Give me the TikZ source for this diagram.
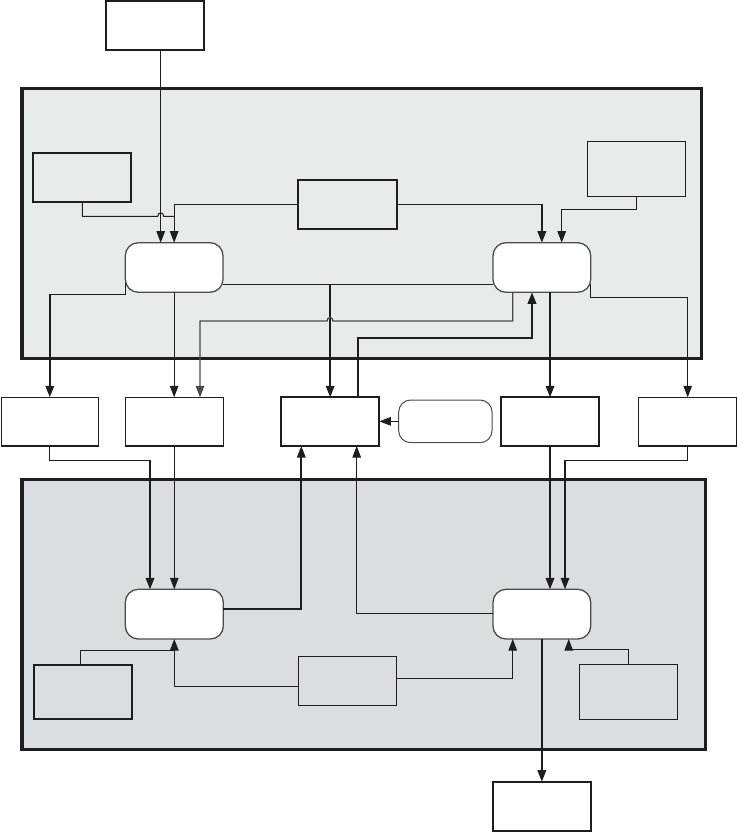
\documentclass[tikz,border=0pt]{standalone}
\usetikzlibrary{arrows.meta}
\definecolor{topfill}{HTML}{E9EAEA}
\definecolor{botfill}{HTML}{DCDDDF}
\definecolor{lineblk}{HTML}{1E1E1E}
\definecolor{graylink}{HTML}{4A4A4A}
\tikzset{
  cont/.style={draw=lineblk, line width=3.3pt, inner sep=0pt, outer sep=0pt},
  sbox/.style={draw=lineblk, line width=1.2pt, inner sep=0pt, outer sep=0pt},
  tbox/.style={draw=lineblk, line width=1.7pt, inner sep=0pt, outer sep=0pt},
  rbox/.style={draw=black!70, fill=white, line width=1.3pt, rounded corners=13pt, inner sep=0pt, outer sep=0pt},
  con/.style={draw=lineblk, line width=1pt},
  thk/.style={draw=lineblk, line width=1.9pt},
  arr/.style={-{Triangle[length=11.5pt,width=8.5pt]}}
}
\begin{document}
\begin{tikzpicture}[x=1pt,y=-1pt]
\useasboundingbox (0,0) rectangle (738,832);
% containers
\node[cont, fill=topfill, minimum width=679.7pt, minimum height=270pt, anchor=north west] (topC) at (22,88.3) {};
\node[cont, fill=botfill, minimum width=683.3pt, minimum height=270pt, anchor=north west] (botC) at (22,479.3) {};
% top area
\node[tbox, fill=white, minimum width=98pt, minimum height=49pt] (src) at (155,25.7) {};
\node[tbox, minimum width=98pt, minimum height=48.7pt] (tlb) at (82.3,177.35) {};
\node[tbox, minimum width=98.4pt, minimum height=48.7pt] (tmb) at (347.5,204.35) {};
\node[sbox, minimum width=98pt, minimum height=55pt] (trb) at (636.3,168.8) {};
\node[rbox, minimum width=97.7pt, minimum height=49.6pt] (tl) at (174.15,267.5) {};
\node[rbox, minimum width=97.7pt, minimum height=49.6pt] (tr) at (541.85,267.5) {};
% middle row
\node[sbox, fill=white, minimum width=97pt, minimum height=48.7pt] (m1) at (49.8,421.65) {};
\node[sbox, fill=white, minimum width=98pt, minimum height=48.7pt] (m2) at (174.3,421.65) {};
\node[tbox, fill=white, minimum width=98.3pt, minimum height=48.7pt] (m3) at (330.15,421.65) {};
\node[rbox, line width=1pt, rounded corners=12pt, minimum width=93.3pt, minimum height=42.7pt] (mr) at (445.35,421.35) {};
\node[tbox, fill=white, minimum width=98.6pt, minimum height=48.7pt] (m4) at (550,421.65) {};
\node[sbox, fill=white, minimum width=98pt, minimum height=48.7pt] (m5) at (687.7,421.65) {};
% bottom area
\node[rbox, minimum width=98pt, minimum height=49.7pt] (bl) at (174.3,614.15) {};
\node[rbox, minimum width=97.7pt, minimum height=49.7pt] (br) at (541.85,614.15) {};
\node[tbox, minimum width=98pt, minimum height=54.6pt] (blb) at (83.3,692) {};
\node[sbox, minimum width=98.4pt, minimum height=49pt] (bmb) at (347.5,680.8) {};
\node[sbox, minimum width=98pt, minimum height=55pt] (brb) at (628.3,691.8) {};
\node[tbox, fill=white, minimum width=98.3pt, minimum height=49.3pt] (out) at (541.85,806.35) {};
% helper pins
\path ([xshift=5.7pt]src.south) coordinate (srcA);
\path ([xshift=-13.5pt]tl.north) coordinate (tlA);
\path ([xshift=19.85pt]tr.north) coordinate (trA);
\path ([xshift=-29.15pt]tr.south) coordinate (trB);
\path ([xshift=-9.85pt]tr.south) coordinate (trC);
\path ([xshift=25.7pt]m2.north) coordinate (m2A);
\path ([xshift=27.55pt]m3.north) coordinate (m3A);
\path ([xshift=-28.85pt]m3.south) coordinate (m3B);
\path ([xshift=26.55pt]m3.south) coordinate (m3C);
\path ([xshift=-24.3pt]bl.north) coordinate (blA);
\path ([xshift=23.15pt]br.north) coordinate (brA);
\path ([xshift=-29.15pt]br.south) coordinate (brB);
\path ([xshift=26.85pt]br.south) coordinate (brC);
% top connectors
\draw[con, arr] (srcA) -- (srcA |- tl.north);
\draw[con] (tlb.south) -- (82.3,216.3) -- (157.7,216.3) .. controls (157.7,211.8) and (163.7,211.8) .. (163.7,216.3) -- (tl.north |- 0,216.3);
\draw[con, arr] (tmb.west) -| (tl.north);
\draw[con] (tmb.east) -- (tr.north |- tmb.east);
\draw[thk, arr] (tr.north |- tmb.east) -- (tr.north);
\draw[con, arr] (trb.south) -- ++(0,13.5) -| (trA);
\draw[con] ([yshift=-16.8pt]tl.east) -- ([yshift=-16.8pt]tr.west);
\draw[thk, arr] (m3.north |- 0,284.3) -- (m3.north);
\draw[con] ([yshift=-15pt]tl.west) -- (125.3,294.3) -- (m1.north |- 0,294.3);
\draw[thk, arr] (m1.north |- 0,294.3) -- (m1.north);
\draw[con, arr] (tl.south) -- (tl.south |- m2.north);
\draw[draw=graylink, line width=1.3pt, arr] (trB) -- (trB |- 0,321) -- (333,321) .. controls (333,316.5) and (327,316.5) .. (327,321) -| (m2A);
\draw[thk, arr] (m3A) -- (m3A |- 0,337.7) -| (trC);
\draw[thk, arr] (m4.north |- tr.south) -- (m4.north);
\draw[con, arr] ([yshift=-16pt]tr.east) -- (590.7,297.7) -| (m5.north);
\draw[con, arr] (mr.west) -- (m3.east |- mr.west);
% lower connectors
\draw[con] (m1.south) -- (m1.south |- 0,460.3) -- (blA |- 0,460.3);
\draw[thk, arr] (blA |- 0,460.3) -- (blA);
\draw[con, arr] (m2.south) -- (bl.north);
\draw[thk, arr] ([yshift=5.45pt]bl.east) -| (m3B);
\draw[con, arr] ([yshift=0.85pt]br.west) -| (m3C);
\draw[thk, arr] (m4.south) -- (m4.south |- br.north);
\draw[con] (m5.south) -- (m5.south |- 0,460.3) -- (brA |- 0,460.3);
\draw[thk, arr] (brA |- 0,460.3) -- (brA);
\draw[con] ([xshift=-2.6pt]blb.north) -- ++(0,-14.4) -- (bl.south |- 0,650.3);
\draw[thk, line width=1.5pt, arr] ([yshift=-5.5pt]bmb.west) -| (bl.south);
\draw[con, arr] ([yshift=2.5pt]bmb.east) -| (brB);
\draw[con, arr] (brb.north) -- ++(0,-15) -| (brC);
\draw[thk, arr] (br.south) -- (out.north);
\end{tikzpicture}
\end{document}
